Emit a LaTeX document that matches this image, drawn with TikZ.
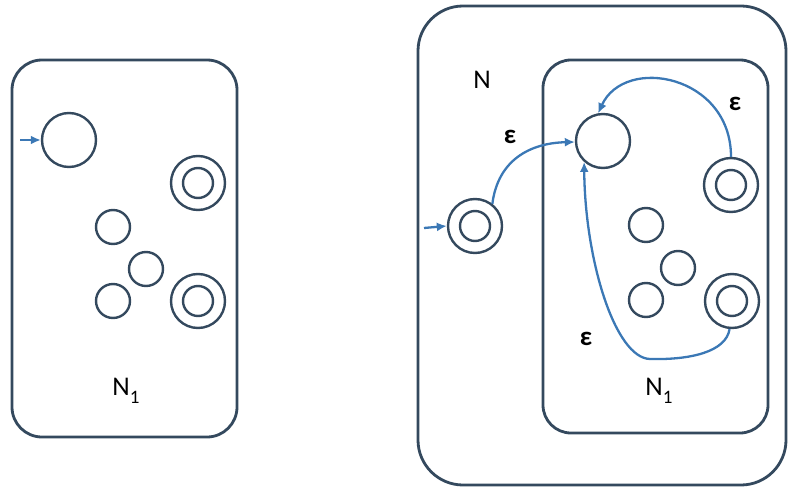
\documentclass[tikz,border=0pt]{standalone}
\usepackage{fontspec}
\setmainfont{Carlito}
\usetikzlibrary{arrows.meta}
\definecolor{boxc}{HTML}{34495E}
\definecolor{arrc}{HTML}{3B78B5}
\newcommand\myone{\raisebox{-0.3em}{\fontsize{19}{20}\selectfont 1}}
\begin{document}
\begin{tikzpicture}[x=1pt,y=-1pt,
  box/.style={draw=boxc, line width=2.8pt},
  st/.style={circle, draw=boxc, line width=2.4pt, minimum size=54pt, inner sep=0pt},
  sm/.style={circle, draw=boxc, line width=2.4pt, minimum size=34pt, inner sep=0pt},
  acc/.style={st, path picture={\draw[boxc, line width=2.4pt] (path picture bounding box.center) circle[radius=15pt];}},
  arr/.style={draw=arrc, line width=2.3pt, -{Latex[length=10pt,width=9pt]}},
  lbl/.style={font=\fontsize{27}{30}\selectfont, inner sep=0pt},
  eps/.style={font=\fontsize{27}{30}\selectfont\bfseries, inner sep=0pt},
]
\useasboundingbox (0,0) rectangle (789,489);
% containers
\draw[box, rounded corners=30pt] (12,60) rectangle (237,437);
\draw[box, rounded corners=45pt] (418,6) rectangle (786,485);
\draw[box, rounded corners=28pt] (543,60) rectangle (768,433);

% left automaton N1
\node[st] (s0) at (69,140) {};
\node[acc] (fa) at (198,183) {};
\node[acc] (fb) at (198,301) {};
\node[sm] (a) at (113,227) {};
\node[sm] (b) at (146,269) {};
\node[sm] (c) at (113,301) {};
\coordinate (in0) at (20,140);
\draw[arr] (in0) -- (s0.west);
\node[lbl] (n1L) at (126,391) {N\myone};

% right automaton N
\node[lbl] (nN) at (482,80) {N};
\node[acc] (q0) at (475,226) {};
\node[st] (s1) at (603,141) {};
\node[acc] (f1) at (731,185) {};
\node[acc] (f2) at (732,301) {};
\node[sm] (a2) at (646,225) {};
\node[sm] (b2) at (678,268) {};
\node[sm] (c2) at (646,300) {};
\node[lbl] (n1R) at (659,391) {N\myone};
\coordinate (in1) at (424,228);
\draw[arr] (in1) -- (q0.west);

% epsilon transitions
\draw[arr] (q0.52) .. controls (498,160) and (530,143) .. (s1.182);
\draw[arr] (f1.90) .. controls (731,75) and (625,55) .. (s1.100);
\coordinate (bt) at (650,359);
\draw[arr] (f2.265) .. controls (726,352) and (690,360) .. (bt) .. controls (615,358) and (585,260) .. (s1.228);
\node[eps] (e1) at (510,137) {ε};
\node[eps] (e2) at (735,104) {ε};
\node[eps] (e3) at (586,339) {ε};
\end{tikzpicture}
\end{document}
